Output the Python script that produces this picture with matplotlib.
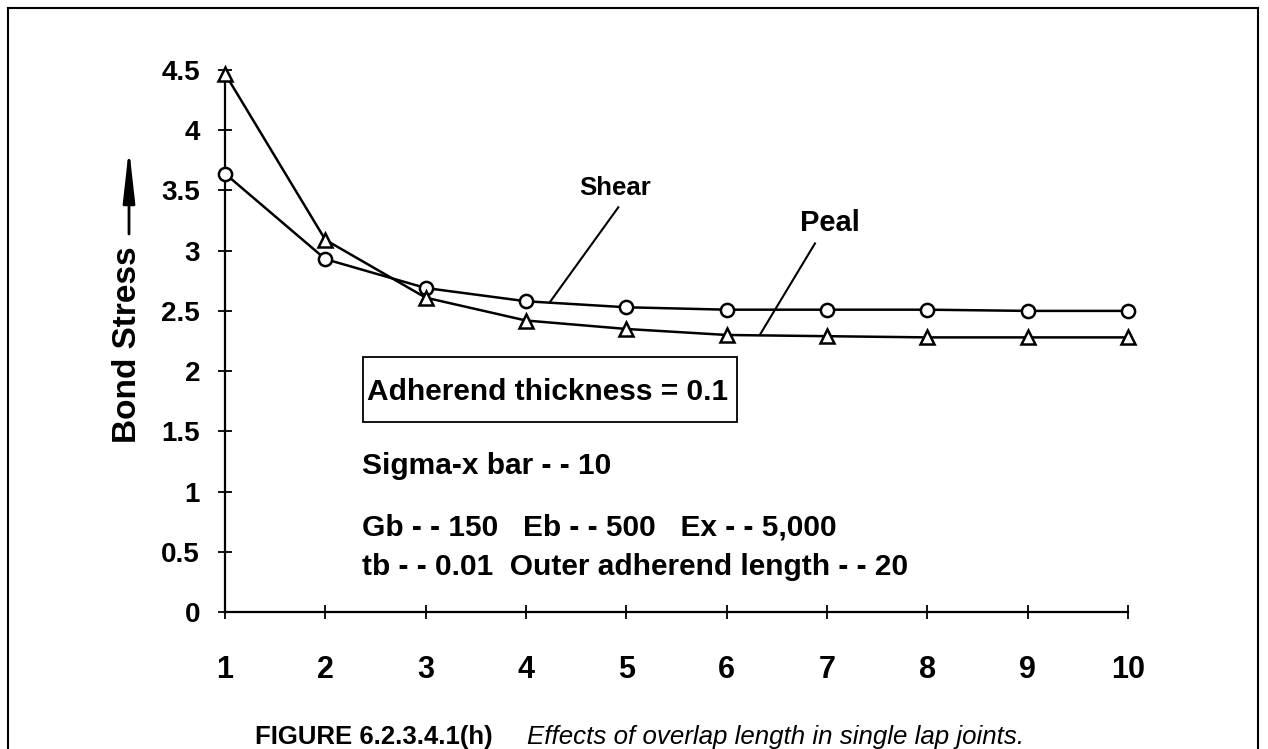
import os
import matplotlib
matplotlib.use("Agg")
import matplotlib.pyplot as plt
import matplotlib.font_manager as fm
from matplotlib.font_manager import FontProperties
from matplotlib.lines import Line2D
from matplotlib.patches import Rectangle

# Overlap length vs. bond stress for a single lap joint
overlap = [1, 2, 3, 4, 5, 6, 7, 8, 9, 10]
shear = [3.64, 2.93, 2.69, 2.58, 2.53, 2.51, 2.51, 2.51, 2.50, 2.50]
peal = [4.47, 3.09, 2.61, 2.42, 2.35, 2.30, 2.29, 2.28, 2.28, 2.28]
yticks = [0, 0.5, 1, 1.5, 2, 2.5, 3, 3.5, 4, 4.5]
ytick_labels = ["0", "0.5", "1", "1.5", "2", "2.5", "3", "3.5", "4", "4.5"]

W, H = 1268, 749


def font(filename, size, weight="normal", style="normal", stretch="normal"):
    """Pick a font by file name; fall back to family lookup."""
    for entry in fm.fontManager.ttflist:
        if os.path.basename(entry.fname) == filename:
            return FontProperties(fname=entry.fname, size=size)
    return FontProperties(family=["Liberation Sans", "DejaVu Sans"], size=size,
                          weight=weight, style=style, stretch=stretch)


narrow_bold = lambda s: font("LiberationSansNarrow-Bold.ttf", s, "bold", stretch="condensed")
sans_bold = lambda s: font("LiberationSans-Bold.ttf", s, "bold")
sans_italic = lambda s: font("LiberationSans-Italic.ttf", s, style="italic")

fig = plt.figure(figsize=(W / 100, H / 100), dpi=100)
fig.patch.set_facecolor("white")

ax = fig.add_axes([225 / W, 1 - 612 / H, (1128 - 225) / W, (612 - 70) / H])
ax.set_xlim(1, 10)
ax.set_ylim(0, 4.5)
for side in ("top", "right"):
    ax.spines[side].set_visible(False)
for side in ("left", "bottom"):
    ax.spines[side].set_linewidth(1.6)

ax.set_xticks(overlap)
ax.set_xticklabels([str(v) for v in overlap])
ax.set_yticks(yticks)
ax.set_yticklabels(ytick_labels)
ax.tick_params(direction="inout", length=10, width=1.3, colors="black")
ax.tick_params(axis="y", pad=13)
ax.tick_params(axis="x", pad=26)
for lab in ax.get_yticklabels():
    lab.set_fontproperties(narrow_bold(20))
for lab in ax.get_xticklabels():
    lab.set_fontproperties(narrow_bold(22))

# data series
ax.plot(overlap, shear, color="black", lw=1.8, marker="o", ms=9.5,
        mfc="white", mec="black", mew=1.8, clip_on=False, zorder=3)
ax.plot(overlap, peal, color="black", lw=1.8, marker="^", ms=9.5,
        mfc="white", mec="black", mew=1.8, clip_on=False, zorder=3)

# series labels with leader lines
ax.plot([4.24, 4.92], [2.575, 3.36], color="black", lw=1.5)
ax.text(4.89, 3.52, "Shear", fontproperties=sans_bold(18.5),
        ha="center", va="center")
ax.plot([6.33, 6.88], [2.30, 3.06], color="black", lw=1.5)
ax.text(7.03, 3.23, "Peal", fontproperties=sans_bold(21),
        ha="center", va="center")

# parameter notes
ax.add_patch(Rectangle((2.375, 1.578), 6.10 - 2.375, 2.117 - 1.578,
                       fill=False, ec="black", lw=1.3))
notes = [
    (2.415, 1.823, "Adherend thickness = 0.1"),
    (2.365, 1.21, "Sigma-x bar - - 10"),
    (2.365, 0.70, "Gb - - 150   Eb - - 500   Ex - - 5,000"),
    (2.365, 0.37, "tb - - 0.01  Outer adherend length - - 20"),
]
for x, y, s in notes:
    ax.text(x, y, s, fontproperties=sans_bold(21.5), ha="left", va="center")

# y-axis title with upward arrow
fig.text(128 / W, 1 - 345 / H, "Bond Stress", rotation=90,
         fontproperties=sans_bold(24), ha="center", va="center")
ax.annotate("", xy=(129, H - 148), xytext=(129, H - 234),
            xycoords="figure pixels", textcoords="figure pixels",
            arrowprops=dict(arrowstyle="-|>,head_length=1.6,head_width=0.18",
                            lw=2, color="black", mutation_scale=20,
                            shrinkA=0, shrinkB=0))

# caption
fig.text(255 / W, 1 - 744 / H, "FIGURE 6.2.3.4.1(h)",
         fontproperties=sans_bold(18.5), ha="left", va="baseline")
fig.text(527 / W, 1 - 744 / H, "Effects of overlap length in single lap joints.",
         fontproperties=sans_italic(18.6), ha="left", va="baseline")

# figure frame
for xs, ys in (([8, 8], [H, 8]), ([8, 1258], [8, 8]), ([1258, 1258], [8, H])):
    fig.add_artist(Line2D([x / W for x in xs], [1 - y / H for y in ys],
                          color="black", lw=1.5, transform=fig.transFigure))

fig.savefig("out.png", dpi=100, facecolor="white")
